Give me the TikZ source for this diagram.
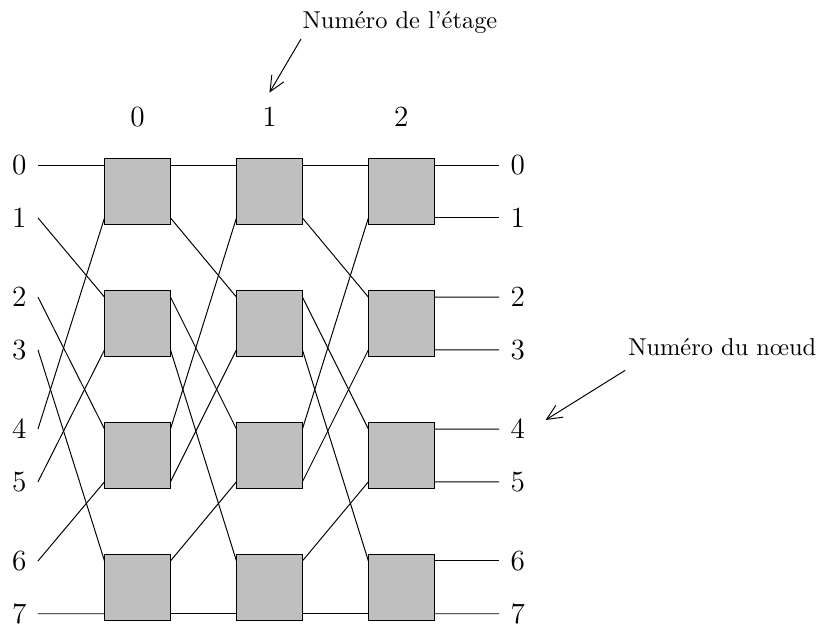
\documentclass[tikz,border=0pt]{standalone}
\usepackage{fontspec}
\usetikzlibrary{arrows.meta}

\begin{document}
\begin{tikzpicture}[
    >={Straight Barb[length=2.2mm,width=2mm]},
    every node/.style={font=\normalsize},
    swbox/.style={
        draw, fill=black!25, inner sep=0pt, outer sep=0pt,
        minimum width=9.5mm, minimum height=9.5mm
    },
    etlbl/.style={font=\large},
    inlbl/.style={font=\large, inner sep=1.6mm, anchor=east},
    outlbl/.style={font=\large, inner sep=1.6mm, anchor=west}
]

\useasboundingbox (-19.8mm, -62.86mm) rectangle (98.14mm, 27.58mm);

% ----------------------------------------------------------
% Numeros des etages
% ----------------------------------------------------------
\node[etlbl] (e0) at (0mm,  10.7mm) {0};
\node[etlbl] (e1) at (19mm, 10.7mm) {1};
\node[etlbl] (e2) at (38mm, 10.7mm) {2};

% ----------------------------------------------------------
% Commutateurs : b<etage><ligne>
% ----------------------------------------------------------
\node[swbox] (b00) at (0mm,   0mm) {};
\node[swbox] (b01) at (0mm, -19mm) {};
\node[swbox] (b02) at (0mm, -38mm) {};
\node[swbox] (b03) at (0mm, -57mm) {};

\node[swbox] (b10) at (19mm,   0mm) {};
\node[swbox] (b11) at (19mm, -19mm) {};
\node[swbox] (b12) at (19mm, -38mm) {};
\node[swbox] (b13) at (19mm, -57mm) {};

\node[swbox] (b20) at (38mm,   0mm) {};
\node[swbox] (b21) at (38mm, -19mm) {};
\node[swbox] (b22) at (38mm, -38mm) {};
\node[swbox] (b23) at (38mm, -57mm) {};

% ----------------------------------------------------------
% Entrees et sorties (numeros des noeuds)
% ----------------------------------------------------------
\node[inlbl] (i0) at (-14.33mm,   3.8mm) {0};
\node[inlbl] (i1) at (-14.33mm,  -3.8mm) {1};
\node[inlbl] (i2) at (-14.33mm, -15.2mm) {2};
\node[inlbl] (i3) at (-14.33mm, -22.8mm) {3};
\node[inlbl] (i4) at (-14.33mm, -34.2mm) {4};
\node[inlbl] (i5) at (-14.33mm, -41.8mm) {5};
\node[inlbl] (i6) at (-14.33mm, -53.2mm) {6};
\node[inlbl] (i7) at (-14.33mm, -60.8mm) {7};

\node[outlbl] (o0) at (52.06mm,   3.8mm) {0};
\node[outlbl] (o1) at (52.06mm,  -3.8mm) {1};
\node[outlbl] (o2) at (52.06mm, -15.2mm) {2};
\node[outlbl] (o3) at (52.06mm, -22.8mm) {3};
\node[outlbl] (o4) at (52.06mm, -34.2mm) {4};
\node[outlbl] (o5) at (52.06mm, -41.8mm) {5};
\node[outlbl] (o6) at (52.06mm, -53.2mm) {6};
\node[outlbl] (o7) at (52.06mm, -60.8mm) {7};

% Melange parfait : entrees -> etage 0
\draw (i0.east) -- ([yshift=-0.95mm]b00.north west);
\draw (i1.east) -- ([yshift=-0.95mm]b01.north west);
\draw (i2.east) -- ([yshift=-0.95mm]b02.north west);
\draw (i3.east) -- ([yshift=-0.95mm]b03.north west);
\draw (i4.east) -- ([yshift=0.95mm]b00.south west);
\draw (i5.east) -- ([yshift=0.95mm]b01.south west);
\draw (i6.east) -- ([yshift=0.95mm]b02.south west);
\draw (i7.east) -- ([yshift=0.95mm]b03.south west);

% Melange parfait : etage 0 -> etage 1
\draw ([yshift=-0.95mm]b00.north east) -- ([yshift=-0.95mm]b10.north west);
\draw ([yshift=0.95mm]b00.south east)  -- ([yshift=-0.95mm]b11.north west);
\draw ([yshift=-0.95mm]b01.north east) -- ([yshift=-0.95mm]b12.north west);
\draw ([yshift=0.95mm]b01.south east)  -- ([yshift=-0.95mm]b13.north west);
\draw ([yshift=-0.95mm]b02.north east) -- ([yshift=0.95mm]b10.south west);
\draw ([yshift=0.95mm]b02.south east)  -- ([yshift=0.95mm]b11.south west);
\draw ([yshift=-0.95mm]b03.north east) -- ([yshift=0.95mm]b12.south west);
\draw ([yshift=0.95mm]b03.south east)  -- ([yshift=0.95mm]b13.south west);

% Melange parfait : etage 1 -> etage 2
\draw ([yshift=-0.95mm]b10.north east) -- ([yshift=-0.95mm]b20.north west);
\draw ([yshift=0.95mm]b10.south east)  -- ([yshift=-0.95mm]b21.north west);
\draw ([yshift=-0.95mm]b11.north east) -- ([yshift=-0.95mm]b22.north west);
\draw ([yshift=0.95mm]b11.south east)  -- ([yshift=-0.95mm]b23.north west);
\draw ([yshift=-0.95mm]b12.north east) -- ([yshift=0.95mm]b20.south west);
\draw ([yshift=0.95mm]b12.south east)  -- ([yshift=0.95mm]b21.south west);
\draw ([yshift=-0.95mm]b13.north east) -- ([yshift=0.95mm]b22.south west);
\draw ([yshift=0.95mm]b13.south east)  -- ([yshift=0.95mm]b23.south west);

% Etage 2 -> sorties
\draw ([yshift=-0.95mm]b20.north east) -- (o0.west);
\draw ([yshift=0.95mm]b20.south east)  -- (o1.west);
\draw ([yshift=-0.95mm]b21.north east) -- (o2.west);
\draw ([yshift=0.95mm]b21.south east)  -- (o3.west);
\draw ([yshift=-0.95mm]b22.north east) -- (o4.west);
\draw ([yshift=0.95mm]b22.south east)  -- (o5.west);
\draw ([yshift=-0.95mm]b23.north east) -- (o6.west);
\draw ([yshift=0.95mm]b23.south east)  -- (o7.west);

% Legendes
\node (etq) at (37.8mm, 24.3mm) {Numéro de l'étage};
\draw[->] ([xshift=1mm, yshift=0.5mm]etq.south west) -- ([yshift=0.9mm]e1.north);

\node (nd) at (84.2mm, -22.46mm) {Numéro du nœud};
\draw[->] ([xshift=0.8mm, yshift=-0.8mm]nd.south west) -- ([xshift=1.3mm, yshift=1.3mm]o4.east);

\end{tikzpicture}
\end{document}
